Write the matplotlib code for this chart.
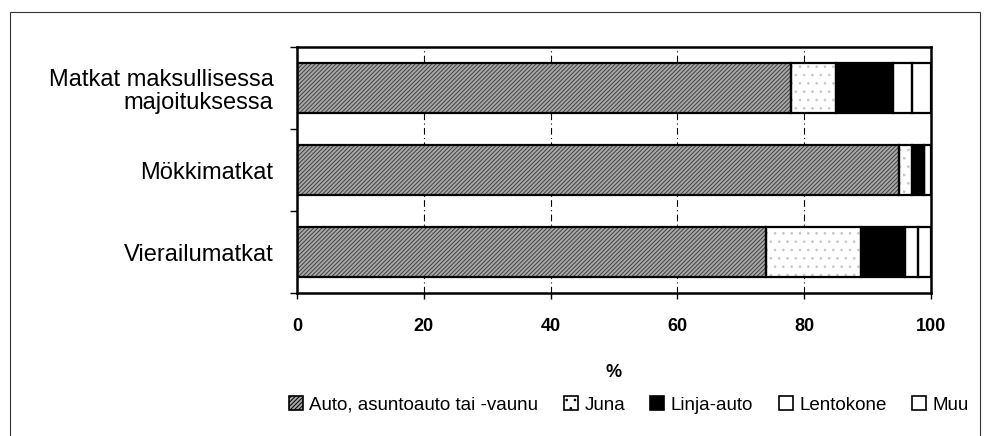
import matplotlib
matplotlib.use("Agg")
import matplotlib.pyplot as plt
from matplotlib.patches import Patch, Rectangle
import numpy as np

plt.rcParams['font.family'] = ['Liberation Sans', 'DejaVu Sans']
plt.rcParams['hatch.linewidth'] = 0.7

CATEGORIES = ["Matkat maksullisessa\nmajoituksessa", "Mökkimatkat", "Vierailumatkat"]
SERIES     = ["Auto, asuntoauto tai -vaunu", "Juna", "Linja-auto", "Lentokone", "Muu"]
AUTO       = [78, 95, 74]
JUNA       = [7, 2, 15]
LINJA      = [9, 2, 7]
LENTO      = [3, 0, 2]
MUU        = [3, 1, 2]
XTICKS     = [0, 20, 40, 60, 80, 100]

# fill style per series: (face, hatch, hatch colour)
STYLES = [
    ("#a8a8a8", "////////", "#404040"),
    ("white",   "..",       "#c8c8c8"),
    ("black",   None,       "black"),
    ("white",   None,       "white"),
    ("white",   None,       "white"),
]

fig = plt.figure(figsize=(9.87, 4.36), dpi=100)
ax = fig.add_axes([0.301, 0.328, 0.642, 0.564])

y = np.arange(len(CATEGORIES))
left = np.zeros(len(CATEGORIES))
handles = []
for vals, name, (fc, hatch, hc) in zip([AUTO, JUNA, LINJA, LENTO, MUU], SERIES, STYLES):
    vals = np.array(vals, dtype=float)
    ax.barh(y, vals, left=left, height=0.62, color=fc, hatch=hatch,
            edgecolor=hc, linewidth=0, zorder=2)
    ax.barh(y, vals, left=left, height=0.62, fill=False,
            edgecolor="black", linewidth=1.6, zorder=3)
    left += vals
    handles.append(Patch(facecolor=fc, hatch=hatch, edgecolor="black",
                         linewidth=1.2, label=name))

ax.set_xlim(0, 100)
ax.set_ylim(2.5, -0.5)
ax.set_xticks(XTICKS)
ax.set_xticklabels([str(t) for t in XTICKS], fontsize=13, fontweight="bold")
ax.set_yticks(y)
ax.set_yticklabels(CATEGORIES, fontsize=17, linespacing=1.1)
ax.tick_params(axis="y", which="major", length=0, pad=17)
ax.set_yticks([-0.5, 0.5, 1.5, 2.5], minor=True)
ax.tick_params(axis="y", which="minor", length=5, width=1, direction="out")
ax.tick_params(axis="x", length=4, width=1, direction="out", pad=14)
for lbl in ax.get_yticklabels():
    lbl.set_horizontalalignment("right")

for gx in XTICKS[1:-1]:
    ax.axvline(gx, color="black", linewidth=0.8, linestyle=(0, (6, 3, 1, 3)), zorder=1)

for s in ax.spines.values():
    s.set_linewidth(1.8)

ax.set_xlabel("%", fontsize=13, fontweight="bold", labelpad=21)

fig.legend(handles=handles, loc="center", bbox_to_anchor=(0.637, 0.071), ncol=5,
           frameon=False, fontsize=13.5, handlelength=0.75, handleheight=0.75,
           handletextpad=0.35, columnspacing=1.35, borderaxespad=0)

fig.add_artist(Rectangle((0.010, -0.05), 0.983, 1.022, transform=fig.transFigure,
                         fill=False, edgecolor="#333333", linewidth=0.8))

fig.savefig("out.png", dpi=100)
